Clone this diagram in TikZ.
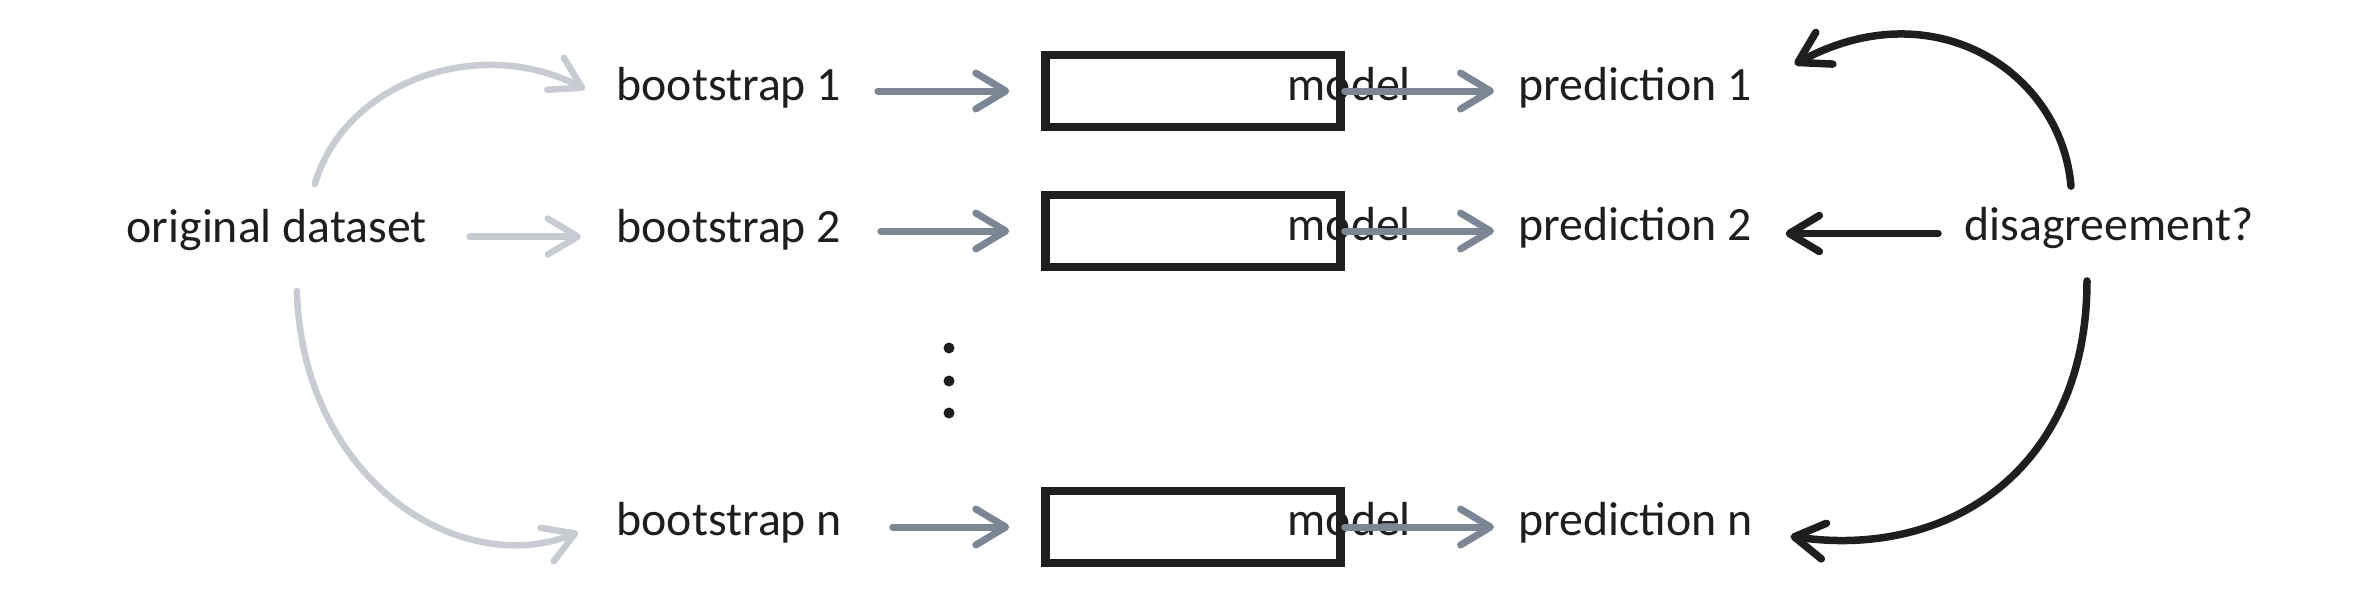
\documentclass[tikz,border=0pt]{standalone}
\usepackage{fontspec}
\setmainfont{Carlito}
\usepackage{xcolor}
\usetikzlibrary{arrows.meta}
\definecolor{ink}{HTML}{1E1E1E}
\definecolor{slate}{HTML}{7B8795}
\definecolor{mist}{HTML}{C8CCD2}

\begin{document}
\begin{tikzpicture}[x=0.1mm,y=-0.1mm,
  lbl/.style={inner sep=0pt,anchor=base west,text=ink,font=\fontsize{13.6}{16}\selectfont},
  mbox/.style={draw=ink,line width=0.85mm,minimum width=29.5mm,minimum height=7.2mm,inner sep=0pt},
  barb/.style={-{Straight Barb[length=3mm,width=3.6mm,round]},line cap=round,line join=round},
  garrow/.style={barb,draw=slate,line width=0.7mm},
  larrow/.style={barb,draw=mist,line width=0.65mm},
  karrow/.style={barb,draw=ink,line width=0.75mm},
  dot/.style={circle,fill=ink,inner sep=0pt,minimum size=1.1mm}]
\useasboundingbox (0,0) rectangle (2379,599);

% texts
\node[lbl] (orig) at (126,242) {original dataset};
\node[lbl] (b1) at (616,100) {bootstrap 1};
\node[lbl] (b2) at (616,242) {bootstrap 2};
\node[lbl] (bn) at (616,535) {bootstrap n};
\node[lbl] (m1) at (1287,100) {model};
\node[lbl] (m2) at (1287,240) {model};
\node[lbl] (mn) at (1287,535) {model};
\node[lbl] (p1) at (1518,100) {prediction 1};
\node[lbl] (p2) at (1518,240) {prediction 2};
\node[lbl] (pn) at (1518,535) {prediction n};
\node[lbl] (dis) at (1964,240) {disagreement?};

% model boxes
\node[mbox] (box1) at (1193,91) {};
\node[mbox] (box2) at (1193,231) {};
\node[mbox] (boxn) at (1193,527) {};

\foreach \y [count=\i] in {348,381,413}
  \node[dot] (d\i) at (949,\y) {};

% resampling
\draw[larrow] ([shift={(38,-24)}]orig.north) .. controls +(30,-103) and +(-105,-55) .. ([shift={(-31,2)}]b1.west);
\draw[larrow,shorten <=4.2mm,shorten >=3.5mm] ([yshift=-0.7mm]orig.east) -- ([yshift=-0.7mm]orig.east -| b2.west);
\draw[larrow] ([shift={(20,40)}]orig.south) .. controls +(6,190) and +(-118,47) .. ([shift={(-38,10)}]bn.west);

% fit and predict
\draw[garrow,shorten <=3.6mm,shorten >=3.2mm] (b1.east |- box1.west) -- (box1.west);
\draw[garrow,shorten <=3.9mm,shorten >=3.2mm] (b2.east |- box2.west) -- (box2.west);
\draw[garrow,shorten <=5mm,shorten >=3.2mm] (bn.east |- boxn.west) -- (boxn.west);
\draw[garrow,shorten >=2.4mm] (box1.east) -- (box1.east -| p1.west);
\draw[garrow,shorten >=2.4mm] (box2.east) -- (box2.east -| p2.west);
\draw[garrow,shorten >=2.4mm] (boxn.east) -- (boxn.east -| pn.west);

% disagreement
\draw[karrow] ([shift={(-38,-20)}]dis.north) .. controls +(-10,-115) and +(139,-75) .. ([shift={(42,-23)}]p1.east);
\draw[karrow,shorten <=2.6mm,shorten >=3.3mm] ([yshift=-0.6mm]dis.west) -- ([yshift=-0.6mm]dis.west -| p2.east);
\draw[karrow] ([shift={(-22,32)}]dis.south) .. controls +(0,187) and +(160,23) .. ([shift={(37,14)}]pn.east);
\end{tikzpicture}
\end{document}
